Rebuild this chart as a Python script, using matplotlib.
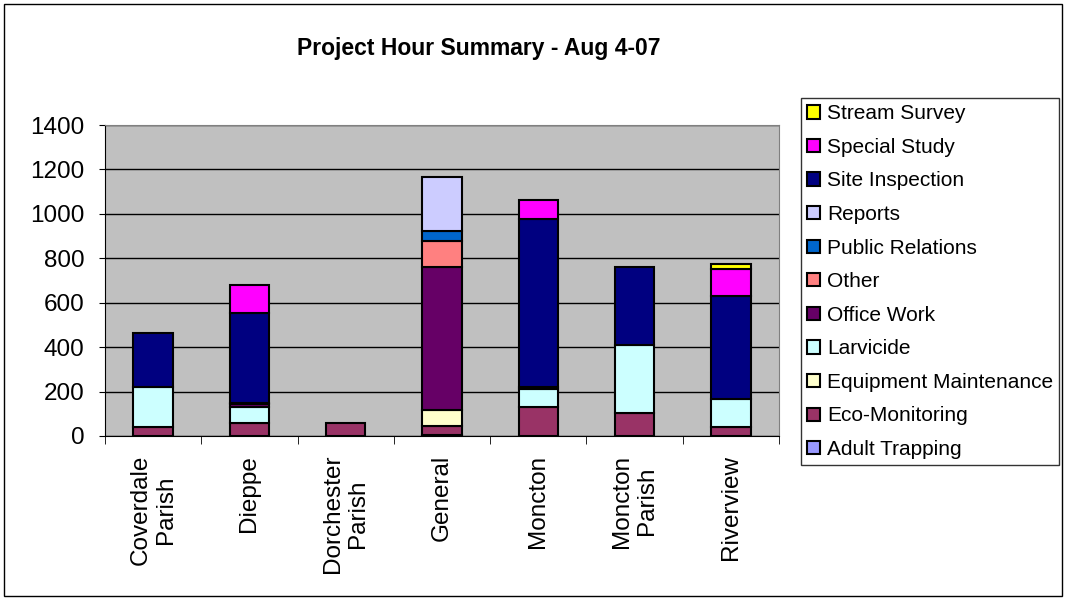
import numpy as np
import matplotlib
matplotlib.use("Agg")
import matplotlib.pyplot as plt
from matplotlib.patches import Rectangle, Patch

plt.rcParams["font.family"] = ["Liberation Sans", "DejaVu Sans"]

categories = ["Coverdale\nParish", "Dieppe", "Dorchester\nParish", "General",
              "Moncton", "Moncton\nParish", "Riverview"]

# stacking order, bottom to top
series_names = ["Adult Trapping", "Eco-Monitoring", "Equipment Maintenance",
                "Larvicide", "Office Work", "Other", "Public Relations",
                "Reports", "Site Inspection", "Special Study", "Stream Survey"]

adult_trapping = [0, 0, 0, 5, 0, 0, 0]
eco_monitoring = [40, 57, 57, 42, 132, 102, 42]
equipment_maint = [0, 0, 0, 68, 0, 0, 0]
larvicide = [182, 75, 0, 0, 78, 307, 123]
office_work = [0, 12, 0, 648, 0, 0, 0]
other = [0, 0, 0, 117, 0, 0, 0]
public_relations = [0, 6, 0, 42, 12, 0, 0]
reports = [0, 0, 0, 246, 0, 0, 0]
site_inspection = [240, 404, 0, 0, 756, 350, 464]
special_study = [0, 125, 0, 0, 83, 0, 125]
stream_survey = [0, 0, 0, 0, 0, 0, 20]

values = [adult_trapping, eco_monitoring, equipment_maint, larvicide, office_work,
          other, public_relations, reports, site_inspection, special_study,
          stream_survey]
colors = ["#9999FF", "#993366", "#FFFFCC", "#CCFFFF", "#660066", "#FF8080",
          "#0066CC", "#CCCCFF", "#000080", "#FF00FF", "#FFFF00"]

fig = plt.figure(figsize=(10.66, 6.0), dpi=100)
ax = fig.add_axes([105 / 1066, 164 / 600, 674 / 1066, 311 / 600])
ax.set_facecolor("#C0C0C0")

x = np.arange(len(categories))
bottom = np.zeros(len(categories))
for name, vals, col in zip(series_names, values, colors):
    vals = np.array(vals, dtype=float)
    mask = vals > 0
    ax.bar(x[mask], vals[mask], 0.41, bottom=bottom[mask], color=col,
           edgecolor="black", linewidth=1.5, zorder=3)
    bottom += vals

ax.set_xlim(-0.5, len(categories) - 0.5)
ax.set_ylim(0, 1400)
ax.set_yticks(np.arange(0, 1401, 200))
ax.yaxis.grid(True, color="black", linewidth=1, zorder=1)
ax.tick_params(axis="y", labelsize=17.5, length=4, pad=11, direction="out")

ax.set_xticks(x)
ax.set_xticklabels([])
ax.set_xticks(np.arange(-0.5, len(categories)), minor=True)
ax.tick_params(axis="x", which="major", length=0)
ax.tick_params(axis="x", which="minor", length=6, direction="out")
for xi, lab in zip(x, categories):
    ax.text(xi, -0.06, lab, transform=ax.get_xaxis_transform(), rotation=90,
            ha="center", va="top", multialignment="center", fontsize=17.5)

for s in ["top", "right"]:
    ax.spines[s].set_color("#808080")
ax.spines["left"].set_color("black")
ax.spines["bottom"].set_color("black")

fig.text(479 / 1066, 1 - 48 / 600, "Project Hour Summary - Aug 4-07",
         ha="center", va="center", fontsize=16.5, fontweight="bold")

handles = [Patch(facecolor=c, edgecolor="black", linewidth=1.5)
           for c in colors[::-1]]
leg = fig.legend(handles, series_names[::-1], loc="upper left",
                 bbox_to_anchor=(801 / 1066, 1 - 98 / 600), fontsize=15,
                 frameon=True, fancybox=False, edgecolor="black",
                 handlelength=0.6, handleheight=0.6, handletextpad=0.35,
                 labelspacing=0.7, borderpad=0.3, borderaxespad=0)
leg.get_frame().set_linewidth(1)

fig.patches.append(Rectangle((4 / 1066, 4 / 600), 1058 / 1066, 592 / 600,
                             transform=fig.transFigure, fill=False,
                             edgecolor="black", linewidth=1))

fig.savefig("out.png", dpi=100)
